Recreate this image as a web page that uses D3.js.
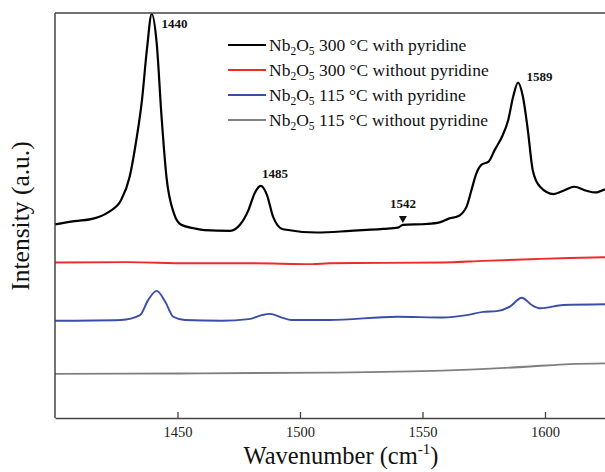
<!DOCTYPE html>
<html>
<head>
<meta charset="utf-8">
<script src="https://cdn.jsdelivr.net/npm/d3@7"></script>
<style>
  body { margin: 0; background: #fff; }
  text { font-family: "Liberation Serif", "DejaVu Serif", serif; }
</style>
</head>
<body>
<div id="chart"></div>
<script>
// wavenumber (cm-1) and intensity (a.u.)
var black_x = [1400, 1408, 1416, 1422, 1427, 1430.5, 1433, 1435.5, 1437.5, 1439.5, 1441.5, 1443.5, 1445.5, 1448.5, 1451.5, 1457, 1461,
               1471.5, 1475.5, 1479, 1481.5, 1484, 1486.5, 1489, 1493, 1507, 1520.5, 1534, 1540, 1542, 1551.5, 1557, 1561,
               1564.5, 1568, 1570, 1572, 1574, 1577, 1579.5, 1582.5, 1585, 1587, 1589, 1591, 1593, 1595, 1598, 1603.5,
               1607.5, 1612, 1617, 1620.5, 1624.5];
var black_y = [47.8, 48.6, 49.3, 50.9, 53.8, 59.6, 67.9, 78.5, 90.9, 99.8, 92.6, 74.3, 59.5, 50.6, 47.7, 46.8, 46.4,
               46.2, 47.7, 51.4, 55.5, 57.3, 55.1, 49.7, 46.6, 45.8, 46.2, 46.7, 47.0, 47.7, 47.9, 48.3, 49.3,
               49.8, 52.2, 56.3, 60.4, 62.5, 63.3, 66.2, 69.5, 73.6, 79.3, 82.8, 79.3, 71.1, 61.2, 57.1, 55.3,
               56.1, 57.1, 56.1, 55.7, 56.5];

var red_x = [1400, 1430, 1454, 1480, 1505, 1512, 1535, 1558, 1575, 1594, 1610, 1624.5];
var red_y = [38.4, 38.5, 38.2, 38.2, 38.0, 38.2, 38.3, 38.4, 38.8, 39.2, 39.5, 39.7];

var blue_x = [1400, 1427, 1434.7, 1438, 1441.5, 1445, 1448.3, 1453, 1468, 1479, 1484.4, 1487.8, 1492.5, 1496.6, 1512,
              1539.5, 1558.5, 1568, 1574.8, 1580.3, 1585.7, 1590.5, 1594.6, 1598, 1607.5, 1624.5];
var blue_y = [24.0, 24.2, 25.4, 29.1, 31.4, 28.7, 25.0, 24.2, 24.0, 24.4, 25.4, 25.7, 24.8, 24.2, 24.2,
              25.0, 24.8, 25.4, 26.2, 26.4, 27.5, 29.7, 27.9, 27.1, 27.9, 28.1];

var gray_x = [1400, 1450, 1512, 1558, 1594, 1610, 1624.5];
var gray_y = [10.9, 11.0, 11.2, 11.7, 12.7, 13.3, 13.5];

var x_ticks = [1450, 1500, 1550, 1600];

var series_names = ["300 °C with pyridine", "300 °C without pyridine", "115 °C with pyridine", "115 °C without pyridine"];
var series_colors = ["#000000", "#ee2a2a", "#3a4ea8", "#808080"];

var peak_labels = [1440, 1485, 1542, 1589];
var peak_values = [99.8, 57.3, 47.7, 82.8];

var width = 605, height = 472;
var pl = 55, pr = 605, pt = 13, pb = 418;

var svg = d3.select("#chart")
    .append("svg")
        .attr("width", width)
        .attr("height", height);

var xScale = d3.scaleLinear()
    .range([pl, pr])
    .domain([1400, 1624.5]);

var yScale = d3.scaleLinear()
    .range([pb, pt])
    .domain([0, 100]);

var line = d3.line()
    .x(function(d){return xScale(d[0]);})
    .y(function(d){return yScale(d[1]);})
    .curve(d3.curveMonotoneX);

var all_x = [gray_x, blue_x, red_x, black_x];
var all_y = [gray_y, blue_y, red_y, black_y];
var all_col = [series_colors[3], series_colors[2], series_colors[1], series_colors[0]];

for (var i = 0; i < all_x.length; i++) {
    var pts = d3.zip(all_x[i], all_y[i]);
    svg.append("path")
        .datum(pts)
        .attr("fill", "none")
        .attr("stroke", all_col[i])
        .attr("stroke-width", i == 3 ? 2.2 : 1.9)
        .attr("stroke-linejoin", "round")
        .attr("d", line);
}

// frame: left and top lines
svg.append("line")
    .attr("x1", pl).attr("x2", pl)
    .attr("y1", pt).attr("y2", pb)
    .attr("stroke", "#444").attr("stroke-width", 1.5);
svg.append("line")
    .attr("x1", pl).attr("x2", pr)
    .attr("y1", pt).attr("y2", pt)
    .attr("stroke", "#444").attr("stroke-width", 1.5);

var xAxis = svg.append("g")
    .attr("transform", "translate(0,"+pb+")")
    .call(d3.axisBottom(xScale).tickValues(x_ticks).tickFormat(d3.format("d"))
        .tickSizeInner(-6).tickSizeOuter(0).tickPadding(9));
xAxis.select(".domain").attr("stroke", "#444").attr("stroke-width", 1.5);
xAxis.selectAll(".tick line").attr("stroke", "#444").attr("stroke-width", 1.3);
xAxis.selectAll(".tick text")
    .attr("font-family", "Liberation Serif")
    .attr("font-size", 14.5)
    .attr("fill", "#222");

var xt = svg.append("text")
    .attr("x", 341)
    .attr("y", 464)
    .attr("text-anchor", "middle")
    .attr("font-size", 24.5)
    .attr("fill", "#111");
xt.append("tspan").text("Wavenumber (cm");
xt.append("tspan").attr("dy", -10).attr("font-size", 15).text("-1");
xt.append("tspan").attr("dy", 10).text(")");

svg.append("text")
    .attr("transform", "translate(29,216) rotate(-90)")
    .attr("text-anchor", "middle")
    .attr("font-size", 25.5)
    .attr("fill", "#111")
    .text("Intensity (a.u.)");

// legend
var legend = svg.append("g");
series_names.forEach(function(name, i) {
    var yy = 45 + i*25;
    legend.append("line")
        .attr("x1", 228).attr("x2", 266)
        .attr("y1", yy).attr("y2", yy)
        .attr("stroke", series_colors[i]).attr("stroke-width", 2);
    var t = legend.append("text")
        .attr("x", 269)
        .attr("y", yy + 5.5)
        .attr("font-size", 17.5)
        .attr("fill", "#111");
    t.append("tspan").text("Nb");
    t.append("tspan").attr("dy", 4).attr("font-size", 11.5).text("2");
    t.append("tspan").attr("dy", -4).text("O");
    t.append("tspan").attr("dy", 4).attr("font-size", 11.5).text("5");
    t.append("tspan").attr("dy", -4).text(" " + name);
});

// peak labels
var label_x = [1443.5, 1484.5, 1542, 1592.5];
var label_off = [-14, 8, 17, 2];
var label_anchor = ["start", "start", "middle", "start"];
peak_labels.forEach(function(p, i) {
    svg.append("text")
        .attr("x", xScale(label_x[i]))
        .attr("y", yScale(peak_values[i]) - label_off[i])
        .attr("text-anchor", label_anchor[i])
        .attr("font-size", 13)
        .attr("font-weight", "bold")
        .attr("fill", "#111")
        .text(p);
});
svg.append("path")
    .attr("d", d3.symbol().type(d3.symbolTriangle).size(28))
    .attr("transform", "translate(" + xScale(1542) + "," + (yScale(47.7) - 6.5) + ") rotate(180)")
    .attr("fill", "#111");
</script>
</body>
</html>
